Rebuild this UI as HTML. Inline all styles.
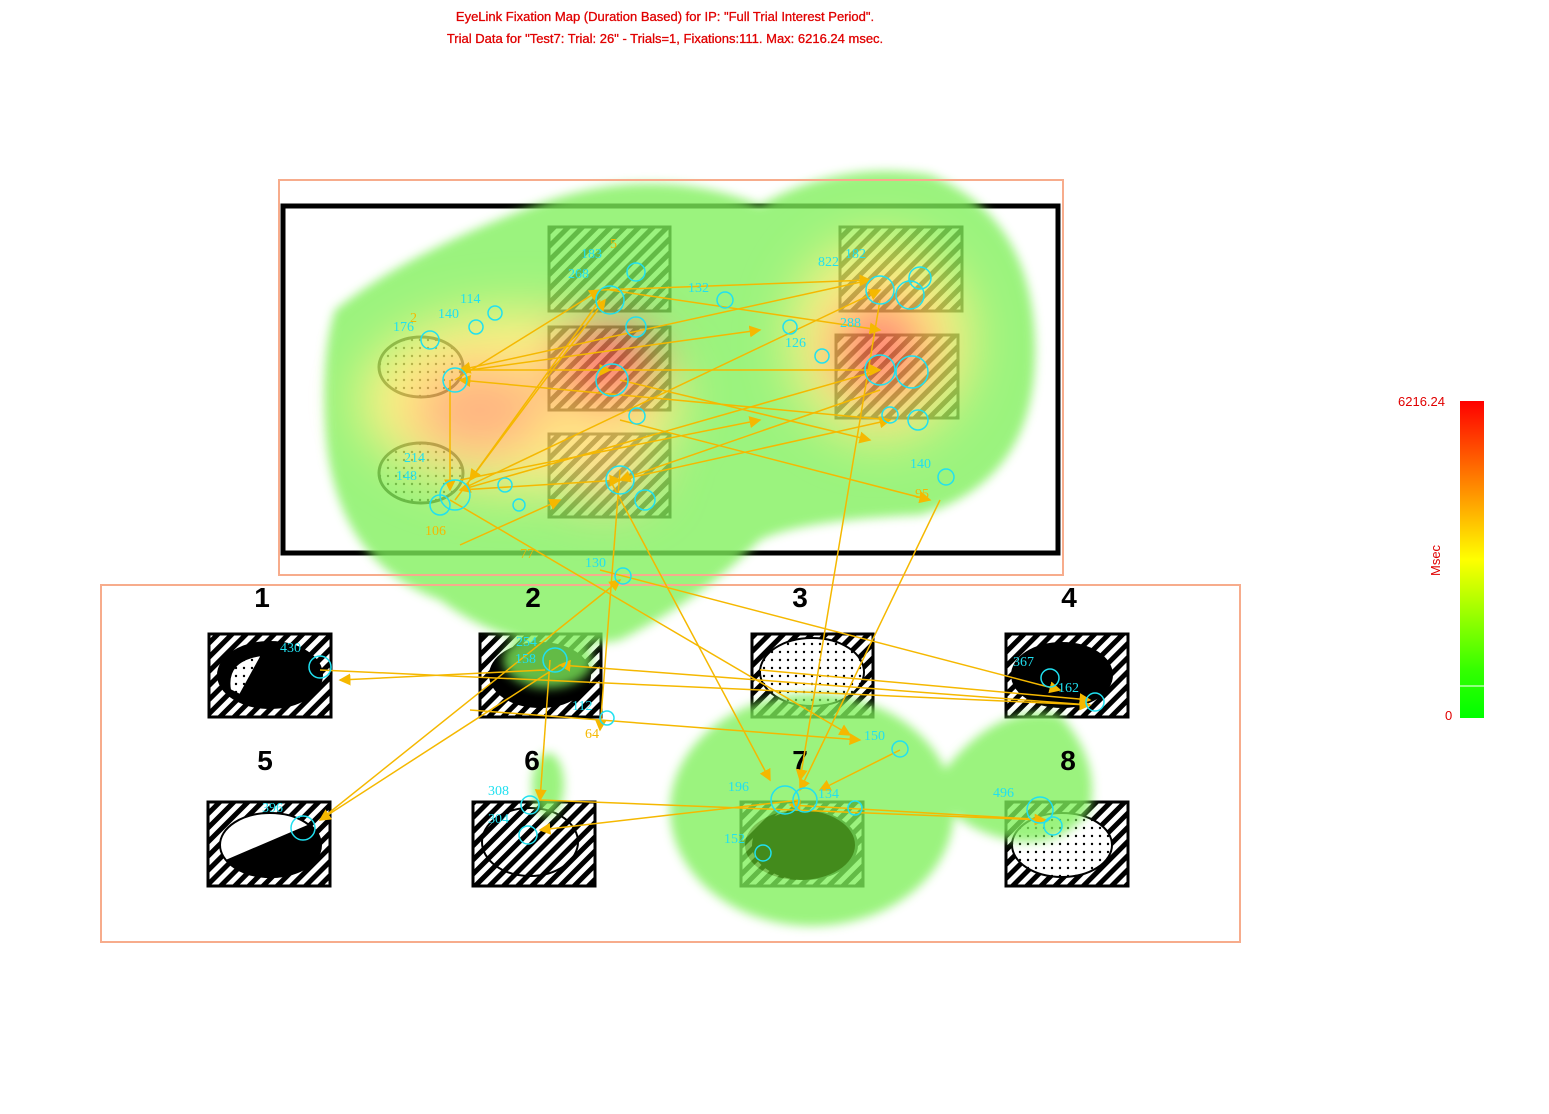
<!DOCTYPE html>
<html><head><meta charset="utf-8"><style>
html,body{margin:0;padding:0;background:#fff;width:1549px;height:1114px;overflow:hidden}
svg{display:block}
</style></head><body>
<svg width="1549" height="1114" xmlns="http://www.w3.org/2000/svg" font-family="Liberation Sans, sans-serif">
<defs>
<pattern id="h" width="10" height="10" patternUnits="userSpaceOnUse" patternTransform="rotate(-45)">
<rect width="10" height="10" fill="#fff"/><rect width="10" height="5" fill="#000"/></pattern>
<pattern id="d" width="8" height="8" patternUnits="userSpaceOnUse"><rect width="8" height="8" fill="#fff"/><circle cx="4" cy="4" r="1.2" fill="#000"/></pattern>
<filter id="b" x="-30%" y="-30%" width="160%" height="160%"><feGaussianBlur stdDeviation="5"/></filter>
<filter id="b2" x="-50%" y="-50%" width="200%" height="200%"><feGaussianBlur stdDeviation="25"/></filter>
<linearGradient id="lg" x1="0" y1="0" x2="0" y2="1">
<stop offset="0" stop-color="#ff0000"/><stop offset="0.3" stop-color="#ff9900"/><stop offset="0.5" stop-color="#ffff00"/><stop offset="0.85" stop-color="#33ff00"/><stop offset="1" stop-color="#00ff00"/></linearGradient>
<marker id="a" markerWidth="8" markerHeight="8" refX="7" refY="4" orient="auto"><path d="M0,0 L8,4 L0,8 z" fill="#f5b800"/></marker>
</defs>
<text x="665" y="21" font-size="13" fill="#e00000" text-anchor="middle" stroke="#e00000" stroke-width="0.3">EyeLink Fixation Map (Duration Based) for IP: "Full Trial Interest Period".</text>
<text x="665" y="43" font-size="13" fill="#e00000" text-anchor="middle" stroke="#e00000" stroke-width="0.3">Trial Data for  "Test7: Trial: 26" - Trials=1, Fixations:111. Max: 6216.24 msec.</text>

<rect x="283" y="206" width="775" height="347" fill="none" stroke="#000" stroke-width="5"/>
<g stroke="#000" stroke-width="3">
<rect x="549" y="227" width="121" height="84" fill="url(#h)"/>
<rect x="840" y="227" width="122" height="84" fill="url(#h)"/>
<rect x="549" y="327" width="121" height="83" fill="url(#h)"/>
<rect x="836" y="335" width="122" height="83" fill="url(#h)"/>
<rect x="549" y="434" width="121" height="83" fill="url(#h)"/>
<ellipse cx="421" cy="367" rx="42" ry="30" fill="url(#d)"/>
<ellipse cx="421" cy="473" rx="42" ry="30" fill="url(#d)"/>
<rect x="209" y="634" width="122" height="83" fill="url(#h)"/>
<rect x="480" y="634" width="121" height="83" fill="url(#h)"/>
<rect x="752" y="634" width="121" height="83" fill="url(#h)"/>
<rect x="1006" y="634" width="122" height="83" fill="url(#h)"/>
<rect x="208" y="802" width="122" height="84" fill="url(#h)"/>
<rect x="473" y="802" width="122" height="84" fill="url(#h)"/>
<rect x="741" y="802" width="122" height="84" fill="url(#h)"/>
<rect x="1006" y="802" width="122" height="84" fill="url(#h)"/>
</g>
<g stroke="#000" stroke-width="2">
<ellipse cx="270" cy="675" rx="52" ry="33" fill="#000"/>
<path d="M230,690 Q225,660 262,655 L240,695z" fill="url(#d)"/>
<ellipse cx="540" cy="675" rx="50" ry="32" fill="#000"/>
<ellipse cx="812" cy="672" rx="52" ry="34" fill="url(#d)"/>
<ellipse cx="1062" cy="675" rx="50" ry="32" fill="#000"/>
<ellipse cx="270" cy="845" rx="50" ry="32" fill="#fff"/>
<path d="M228,860 L310,825 A50,32 0 0 1 270,877 A50,32 0 0 1 228,860z" fill="#000"/>
<ellipse cx="530" cy="842" rx="48" ry="34" fill="none"/>
<ellipse cx="805" cy="845" rx="52" ry="34" fill="#000"/>
<ellipse cx="1062" cy="845" rx="50" ry="32" fill="url(#d)"/>
</g>
<g opacity="0.78">
<g filter="url(#b)" fill="#7ff05a">
<path d="M335,310 Q410,250 550,200 Q660,165 760,205 Q840,160 930,175 Q1030,215 1035,340 Q1040,480 920,515 Q800,520 760,540 Q700,600 620,640 Q520,660 440,600 Q330,560 325,420 Q322,350 335,310z"/>
<ellipse cx="812" cy="810" rx="142" ry="116"/>
<path d="M930,790 Q990,700 1060,715 Q1100,760 1090,810 Q1060,850 1010,840 Q960,830 930,790z"/>
<ellipse cx="548" cy="785" rx="16" ry="32"/>
<ellipse cx="548" cy="660" rx="45" ry="28"/>
</g>
<g filter="url(#b2)">
<ellipse cx="520" cy="400" rx="160" ry="90" fill="#fff060"/>
<ellipse cx="880" cy="340" rx="90" ry="100" fill="#fff060"/>
<ellipse cx="480" cy="410" rx="70" ry="50" fill="#ffa060"/>
<ellipse cx="605" cy="365" rx="55" ry="45" fill="#ff5050"/>
<ellipse cx="880" cy="350" rx="50" ry="55" fill="#ff6050"/>
<ellipse cx="605" cy="470" rx="50" ry="35" fill="#ffd070"/>
</g>
<ellipse cx="800" cy="845" rx="55" ry="35" fill="#3a8a00" opacity="0.6"/>
</g>
<rect x="279" y="180" width="784" height="395" fill="none" stroke="#f7ac8c" stroke-width="2"/>
<rect x="101" y="585" width="1139" height="357" fill="none" stroke="#f7ac8c" stroke-width="2"/>
<g font-size="28" font-weight="bold" text-anchor="middle" fill="#000">
<text x="262" y="607">1</text><text x="533" y="607">2</text><text x="800" y="607">3</text><text x="1069" y="607">4</text>
<text x="265" y="770">5</text><text x="532" y="770">6</text><text x="800" y="770">7</text><text x="1068" y="770">8</text>
</g>
<g stroke="#f5b800" stroke-width="1.5" fill="none" marker-end="url(#a)">
<path d="M455,380 L600,290"/><path d="M600,290 L870,280"/><path d="M870,280 L460,370"/><path d="M460,370 L610,370"/>
<path d="M610,370 L880,370"/><path d="M880,370 L460,490"/><path d="M460,490 L620,480"/><path d="M620,480 L890,420"/>
<path d="M890,420 L460,380"/><path d="M460,490 L880,290"/><path d="M610,290 L880,330"/><path d="M455,500 L605,300"/>
<path d="M450,380 L450,490"/><path d="M880,390 L620,480"/><path d="M620,470 L600,730"/><path d="M610,480 L770,780"/>
<path d="M450,500 L850,735"/><path d="M940,500 L800,790"/><path d="M880,300 L800,780"/><path d="M320,670 L1090,705"/>
<path d="M1090,705 L560,665"/><path d="M560,665 L320,820"/><path d="M320,820 L620,580"/><path d="M800,800 L540,830"/>
<path d="M540,800 L1045,820"/><path d="M1050,820 L790,805"/><path d="M900,750 L820,790"/><path d="M550,660 L540,800"/>
<path d="M470,710 L860,740"/><path d="M600,570 L1060,690"/><path d="M760,670 L1090,700"/>
<path d="M545,670 L340,680"/><path d="M460,545 L560,500"/><path d="M620,420 L930,500"/>
<path d="M470,370 L760,330"/><path d="M460,480 L760,420"/><path d="M600,300 L470,480"/><path d="M620,380 L870,440"/>
</g>
<g stroke="#20e0f0" stroke-width="1.5" fill="none">
<circle cx="455" cy="380" r="12"/><circle cx="430" cy="340" r="9"/><circle cx="476" cy="327" r="7"/><circle cx="495" cy="313" r="7"/>
<circle cx="610" cy="300" r="14"/><circle cx="636" cy="272" r="9"/><circle cx="612" cy="380" r="16"/><circle cx="636" cy="327" r="10"/>
<circle cx="637" cy="416" r="8"/><circle cx="725" cy="300" r="8"/><circle cx="790" cy="327" r="7"/><circle cx="822" cy="356" r="7"/>
<circle cx="880" cy="290" r="14"/><circle cx="910" cy="295" r="14"/><circle cx="920" cy="278" r="11"/><circle cx="880" cy="370" r="15"/>
<circle cx="912" cy="372" r="16"/><circle cx="918" cy="420" r="10"/><circle cx="890" cy="415" r="8"/><circle cx="946" cy="477" r="8"/>
<circle cx="455" cy="495" r="15"/><circle cx="440" cy="505" r="10"/><circle cx="505" cy="485" r="7"/><circle cx="519" cy="505" r="6"/>
<circle cx="620" cy="480" r="14"/><circle cx="645" cy="500" r="10"/><circle cx="623" cy="576" r="8"/>
<circle cx="320" cy="667" r="11"/><circle cx="555" cy="660" r="12"/><circle cx="607" cy="718" r="7"/>
<circle cx="1050" cy="678" r="9"/><circle cx="1095" cy="702" r="9"/><circle cx="900" cy="749" r="8"/>
<circle cx="303" cy="828" r="12"/><circle cx="530" cy="805" r="9"/><circle cx="528" cy="835" r="9"/>
<circle cx="785" cy="800" r="14"/><circle cx="805" cy="800" r="12"/><circle cx="763" cy="853" r="8"/><circle cx="855" cy="808" r="7"/>
<circle cx="1040" cy="810" r="13"/><circle cx="1053" cy="826" r="9"/>
</g>
<g font-family="Liberation Serif, serif" font-size="14" fill="#20e0f0">
<text x="581" y="258">183</text><text x="568" y="278">268</text><text x="460" y="303">114</text><text x="438" y="318">140</text>
<text x="393" y="331">176</text><text x="688" y="292">132</text><text x="818" y="266">822</text><text x="845" y="258">182</text>
<text x="785" y="347">126</text><text x="840" y="327">288</text><text x="404" y="462">214</text><text x="396" y="480">148</text>
<text x="910" y="468">140</text><text x="585" y="567">130</text><text x="280" y="652">430</text><text x="516" y="646">254</text>
<text x="515" y="663">158</text><text x="572" y="710">112</text><text x="1013" y="666">367</text><text x="1058" y="692">162</text>
<text x="864" y="740">150</text><text x="262" y="812">396</text><text x="488" y="795">308</text><text x="488" y="823">304</text>
<text x="728" y="791">196</text><text x="818" y="798">134</text><text x="724" y="843">152</text><text x="993" y="797">496</text>
</g>
<g font-family="Liberation Serif, serif" font-size="14" fill="#f5b800">
<text x="425" y="535">106</text><text x="915" y="498">95</text><text x="520" y="558">77</text><text x="585" y="738">64</text><text x="410" y="322">2</text><text x="610" y="248">5</text>
</g>
<rect x="1460" y="401" width="24" height="317" fill="url(#lg)"/>
<line x1="1460" y1="686" x2="1484" y2="686" stroke="#fff"/>
<text x="1398" y="406" font-size="13" fill="#e00000">6216.24</text>
<text x="1445" y="720" font-size="13" fill="#e00000">0</text>
<text x="1440" y="576" font-size="13" fill="#e00000" transform="rotate(-90 1440 576)">Msec</text>
</svg>
</body></html>
